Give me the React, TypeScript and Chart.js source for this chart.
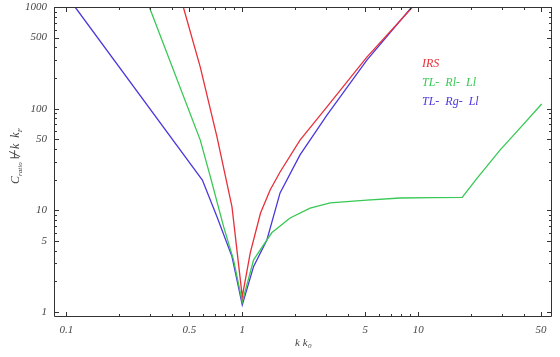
import React, { useEffect, useRef } from "react";
import { Chart, registerables } from "chart.js";
Chart.register(...registerables);

// ---- data ----
const irsX = [0.462, 0.577, 0.718, 0.874, 1.0, 1.11, 1.27, 1.44, 1.64, 2.13, 3.03, 5.11, 9.3];
const irsY = [1000, 256, 52.6, 10.8, 1.41, 3.8, 9.4, 15.8, 23.8, 49, 104, 321, 1000];

const rlX = [0.296, 0.577, 0.658, 0.783, 0.892, 1.0, 1.16, 1.47, 1.87, 2.43, 3.16, 5.11, 7.9, 12, 17.8, 21.6, 29.2, 36.4, 50.4];
const rlY = [1000, 49, 21.4, 6.9, 3.25, 1.25, 3.25, 6.0, 8.4, 10.5, 11.8, 12.6, 13.2, 13.3, 13.4, 20.6, 39, 59.3, 111];

const rgX = [0.112, 0.593, 0.718, 0.874, 1.0, 1.16, 1.38, 1.64, 2.13, 3.03, 5.11, 9.2];
const rgY = [1000, 19.8, 8.65, 3.5, 1.17, 2.8, 5.1, 14.8, 35, 86.5, 300, 1000];

const seriesLabels = ["IRS", "TL-  Rl-  Ll", "TL-  Rg-  Ll"];
const seriesColors = ["rgb(232,48,58)", "rgb(56,200,84)", "rgb(74,56,220)"];

const xTickValues = [0.1, 0.2, 0.3, 0.4, 0.5, 0.6, 0.7, 0.8, 0.9, 1, 2, 3, 4, 5, 6, 7, 8, 9, 10, 20, 30, 40, 50];
const xTickLabels = [0.1, 0.5, 1, 5, 10, 50];
const yTickValues = [1, 2, 3, 4, 5, 6, 7, 8, 9, 10, 20, 30, 40, 50, 60, 70, 80, 90, 100, 200, 300, 400, 500, 600, 700, 800, 900, 1000];
const yTickLabels = [1, 5, 10, 50, 100, 500, 1000];

const FONT = "'Liberation Serif', 'DejaVu Serif', serif";

function pts(xs: number[], ys: number[]) {
  return xs.map((x, i) => ({ x, y: ys[i] }));
}

const framePlugin = {
  id: "frame",
  afterDraw(chart: any) {
    const { ctx, chartArea } = chart;
    const { left, right, top, bottom } = chartArea;
    const xs = chart.scales.x;
    const ys = chart.scales.y;
    ctx.save();
    ctx.strokeStyle = "#333";
    ctx.lineWidth = 1;
    ctx.beginPath();
    ctx.rect(left + 0.5, top + 0.5, right - left - 1, bottom - top - 1);
    ctx.stroke();
    ctx.beginPath();
    for (const v of xTickValues) {
      const p = Math.round(xs.getPixelForValue(v)) + 0.5;
      const len = xTickLabels.includes(v) ? 5 : 3;
      ctx.moveTo(p, bottom);
      ctx.lineTo(p, bottom - len);
      ctx.moveTo(p, top);
      ctx.lineTo(p, top + len);
    }
    for (const v of yTickValues) {
      const p = Math.round(ys.getPixelForValue(v)) + 0.5;
      const len = yTickLabels.includes(v) ? 5 : 3;
      ctx.moveTo(left, p);
      ctx.lineTo(left + len, p);
      ctx.moveTo(right, p);
      ctx.lineTo(right - len, p);
    }
    ctx.stroke();

    // legend
    ctx.font = `italic 12px ${FONT}`;
    ctx.textBaseline = "middle";
    ctx.textAlign = "left";
    chart.data.datasets.forEach((ds: any, i: number) => {
      ctx.fillStyle = ds.borderColor;
      ctx.fillText(ds.label, 422, 64 + i * 19);
    });

    // x title: k k_0
    ctx.fillStyle = "#444";
    ctx.textBaseline = "alphabetic";
    const cx = (left + right) / 2;
    ctx.font = `italic 11px ${FONT}`;
    const mainW = ctx.measureText("k k").width;
    ctx.font = `italic 7px ${FONT}`;
    const subW = ctx.measureText("0").width;
    let sx = cx - (mainW + subW) / 2;
    ctx.font = `italic 11px ${FONT}`;
    ctx.fillText("k k", sx, 346);
    ctx.font = `italic 7px ${FONT}`;
    ctx.fillText("0", sx + mainW + 0.5, 348);

    // y title: C_ratio ⊬k k_F
    ctx.save();
    ctx.translate(15, 156);
    ctx.rotate(-Math.PI / 2);
    const parts: [string, number, number][] = [
      ["C", 12, 0],
      ["ratio", 7, 3],
      [" \u22ACk  k", 12, 0],
      ["F", 7, 3],
    ];
    let total = 0;
    for (const [t, s] of parts) {
      ctx.font = `italic ${s}px ${FONT}`;
      total += ctx.measureText(t).width;
    }
    let px = -total / 2;
    for (const [t, s, dy] of parts) {
      ctx.font = `italic ${s}px ${FONT}`;
      ctx.fillText(t, px, 4 + dy);
      px += ctx.measureText(t).width;
    }
    ctx.restore();
    ctx.restore();
  },
};

export default function App() {
  const ref = useRef<HTMLCanvasElement | null>(null);
  useEffect(() => {
    if (!ref.current) return;
    const mk = (label: string, color: string, data: any[]) => ({
      label,
      data,
      borderColor: color,
      backgroundColor: color,
      borderWidth: 1.3,
      pointRadius: 0,
      showLine: true,
      fill: false,
      tension: 0,
    });
    const chart = new Chart(ref.current, {
      type: "scatter",
      data: {
        datasets: [
          mk(seriesLabels[0], seriesColors[0], pts(irsX, irsY)),
          mk(seriesLabels[1], seriesColors[1], pts(rlX, rlY)),
          mk(seriesLabels[2], seriesColors[2], pts(rgX, rgY)),
        ],
      },
      options: {
        animation: false,
        responsive: false,
        devicePixelRatio: 1,
        layout: { padding: { top: 7, right: 8, left: 0, bottom: 0 } },
        plugins: { legend: { display: false }, tooltip: { enabled: false } },
        scales: {
          x: {
            type: "logarithmic",
            min: 0.085,
            max: 57.7,
            grid: { display: false, drawTicks: false },
            border: { display: false },
            afterBuildTicks: (s: any) => {
              s.ticks = xTickValues.map((v) => ({ value: v }));
            },
            afterFit: (s: any) => {
              s.height = 40;
              s.paddingLeft = 0;
              s.paddingRight = 0;
              s.paddingTop = 0;
              s.paddingBottom = 0;
            },
            ticks: {
              autoSkip: false,
              maxRotation: 0,
              padding: 7,
              color: "#444",
              font: { family: FONT, size: 11, style: "italic" },
              callback: (v: any) => (xTickLabels.includes(Number(v)) ? String(v) : ""),
            },
          },
          y: {
            type: "logarithmic",
            min: 0.89,
            max: 1000,
            grid: { display: false, drawTicks: false },
            border: { display: false },
            afterBuildTicks: (s: any) => {
              s.ticks = yTickValues.map((v) => ({ value: v }));
            },
            afterFit: (s: any) => {
              s.width = 54;
              s.paddingLeft = 0;
              s.paddingRight = 0;
              s.paddingTop = 0;
              s.paddingBottom = 0;
            },
            ticks: {
              autoSkip: false,
              padding: 7,
              color: "#444",
              font: { family: FONT, size: 11, style: "italic" },
              callback: (v: any) => (yTickLabels.includes(Number(v)) ? String(v) : ""),
            },
          },
        },
      },
      plugins: [framePlugin],
    } as any);
    return () => chart.destroy();
  }, []);
  return (
    <div style={{ position: "fixed", left: 0, top: 0, width: 560, height: 357, background: "#fff" }}>
      <canvas ref={ref} width={560} height={357} style={{ display: "block", width: 560, height: 357 }} />
    </div>
  );
}
